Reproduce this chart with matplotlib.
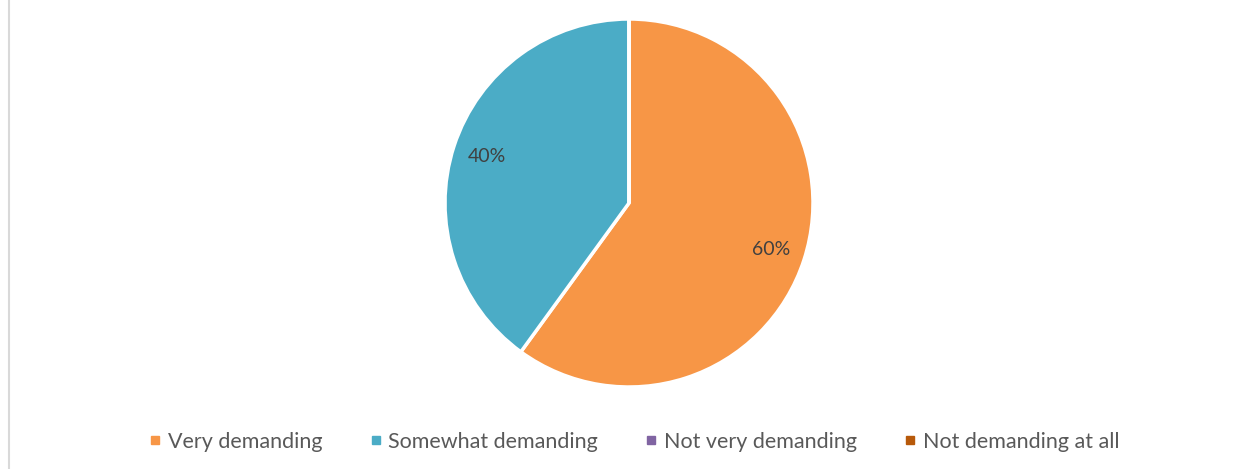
import matplotlib
matplotlib.use("Agg")
import matplotlib.pyplot as plt
from matplotlib.lines import Line2D

categories = ["Very demanding", "Somewhat demanding", "Not very demanding", "Not demanding at all"]
values = [60, 40, 0, 0]
colors = ["#F79646", "#4BACC6", "#8064A2", "#B7590A"]

plt.rcParams['font.family'] = ['Lato', 'DejaVu Sans']

W, H = 1236, 469
fig = plt.figure(figsize=(W/100, H/100), dpi=100)
fig.patch.set_facecolor("white")

cx, cy, r = 629, 203, 184
ax = fig.add_axes([(cx - r)/W, (H - cy - r)/H, 2*r/W, 2*r/H])

def fmt(p):
    return f"{p:.0f}%" if p > 0.5 else ""

wedges, texts, autotexts = ax.pie(
    values, colors=colors, startangle=90, counterclock=False,
    autopct=fmt, pctdistance=0.81, radius=1.0,
    wedgeprops=dict(edgecolor="white", linewidth=2.5),
    textprops=dict(color="#404040", fontsize=14))
ax.set_xlim(-1.0, 1.0)
ax.set_ylim(-1.0, 1.0)
ax.set_aspect("equal")
ax.axis("off")

handles = [Line2D([0], [0], marker='s', linestyle='None', markersize=6,
                  markerfacecolor=c, markeredgecolor=c) for c in colors]
leg = fig.legend(handles, categories, loc='center', bbox_to_anchor=(634/W, 1 - 442/H),
                 ncol=4, frameon=False, fontsize=15.5, handlelength=0.6, handletextpad=0.3,
                 columnspacing=2.15, labelcolor="#595959")

fig.add_artist(Line2D([8.5/W, 8.5/W], [0, 1], color="#D9D9D9", linewidth=1.5,
                      transform=fig.transFigure))

fig.savefig("out.png", dpi=100)
